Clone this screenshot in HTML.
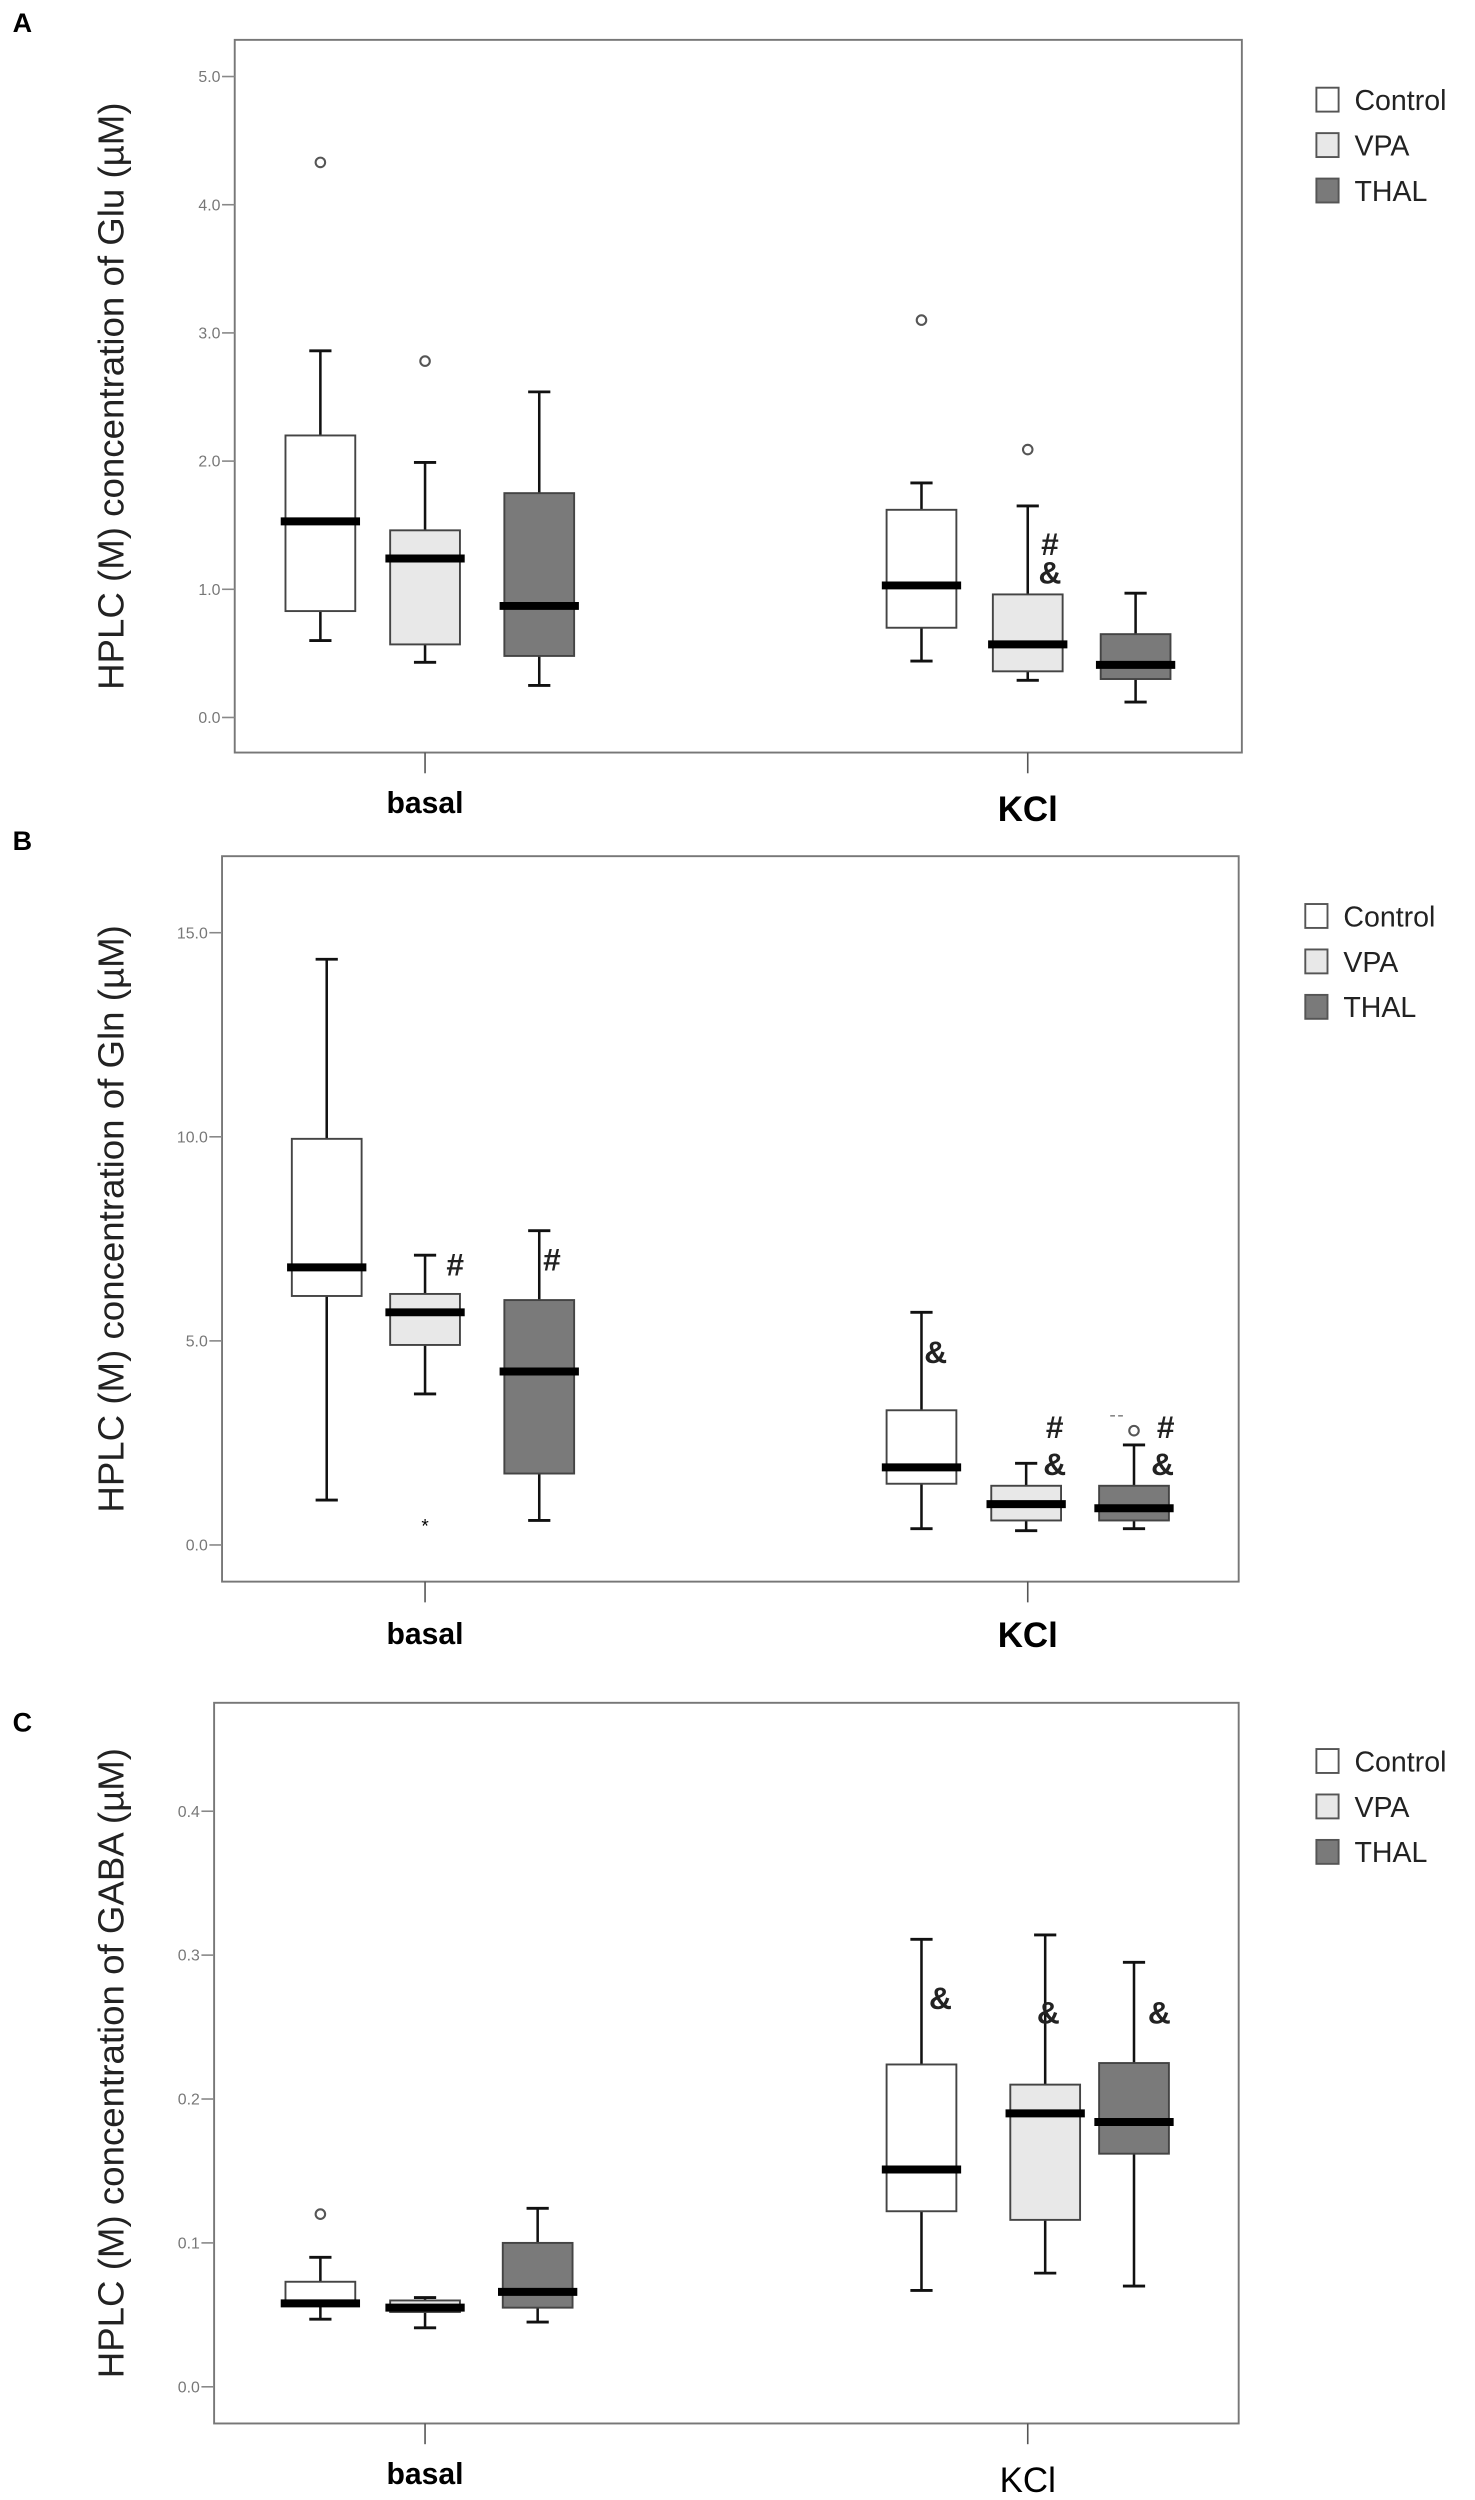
<!DOCTYPE html>
<html><head><meta charset="utf-8"><style>
html,body{margin:0;padding:0;background:#fff}
svg{display:block}
text{font-family:"Liberation Sans",sans-serif}
</style></head><body>
<svg id="fig" width="1475" height="2500" viewBox="0 0 930 1568" preserveAspectRatio="none" xmlns="http://www.w3.org/2000/svg"></svg>
<script>
const groups = ["Control","VPA","THAL"];
const categories = ["basal","KCl"];
// Panel A (Glu)
const aMin = [0.6,0.43,0.25,0.44,0.29,0.12];
const aQ1  = [0.83,0.57,0.48,0.7,0.36,0.3];
const aMed = [1.53,1.24,0.87,1.03,0.57,0.41];
const aQ3  = [2.2,1.46,1.75,1.62,0.96,0.65];
const aMax = [2.86,1.99,2.54,1.83,1.65,0.97];
const aOut = [[4.33],[2.78],[],[3.1],[2.09],[]];
const aTicks = [0,1,2,3,4,5];
const aTickLabels = ["0.0","1.0","2.0","3.0","4.0","5.0"];
// Panel B (Gln)
const bMin = [1.1,3.7,0.6,0.4,0.35,0.4];
const bQ1  = [6.1,4.9,1.75,1.5,0.6,0.6];
const bMed = [6.8,5.7,4.25,1.9,1.0,0.9];
const bQ3  = [9.95,6.15,6.0,3.3,1.45,1.45];
const bMax = [14.35,7.1,7.7,5.7,2.0,2.45];
const bOut = [[],[],[],[],[],[2.8]];
const bExt = [[],[0.5],[],[],[],[]];
const bTicks = [0,5,10,15];
const bTickLabels = ["0.0","5.0","10.0","15.0"];
// Panel C (GABA)
const cMin = [0.047,0.041,0.045,0.067,0.079,0.07];
const cQ1  = [0.057,0.052,0.055,0.122,0.116,0.162];
const cMed = [0.058,0.055,0.066,0.151,0.19,0.184];
const cQ3  = [0.073,0.06,0.1,0.224,0.21,0.225];
const cMax = [0.09,0.062,0.124,0.311,0.314,0.295];
const cOut = [[0.12],[],[],[],[],[]];
const cTicks = [0,0.1,0.2,0.3,0.4];
const cTickLabels = ["0.0","0.1","0.2","0.3","0.4"];

const NS="http://www.w3.org/2000/svg";
const svg=document.getElementById('fig');
function el(tag,attrs,parent,txt){const e=document.createElementNS(NS,tag);for(const k in attrs)e.setAttribute(k,attrs[k]);if(txt!==undefined)e.textContent=txt;(parent||svg).appendChild(e);return e;}
const fills=["#ffffff","#e8e8e8","#7a7a7a"];

function panel(cfg){
  const g=el('g',{});
  
  
  const y=v=>cfg.y0+(v-cfg.t0)/(cfg.t1-cfg.t0)*(cfg.y1-cfg.y0);
  const L=el('text',{x:8,y:cfg.letterY,'font-size':17,'font-weight':'bold'},g,cfg.letter);
  
  const fr=el('rect',{x:cfg.fx0,y:cfg.fy0,width:cfg.fx1-cfg.fx0,height:cfg.fy1-cfg.fy0,fill:'none',stroke:'#777','stroke-width':1.2},g);
  
  cfg.ticks.forEach((t,i)=>{
    const ln=el('line',{x1:cfg.fx0-8,x2:cfg.fx0,y1:y(t),y2:y(t),stroke:'#888'},g);
    
    const tx=el('text',{x:cfg.fx0-9,y:y(t)+3.5,'font-size':10,fill:'#777','text-anchor':'end'},g,cfg.labels[i]);
    
  });
  const yt=el('text',{transform:`translate(78,${(cfg.fy0+cfg.fy1)/2}) rotate(-90)`,'font-size':23,'text-anchor':'middle',fill:'#222'},g,cfg.title);
  
  categories.forEach((c,i)=>{
    const cx=[268,648][i];
    const tk=el('line',{x1:cx,x2:cx,y1:cfg.fy1,y2:cfg.fy1+13,stroke:'#555'},g);
    
    const bold=(i===1&&cfg.kclNormal)?'normal':'bold';
    const t=el('text',{x:cx,y:cfg.catY[i],'font-size':i?22:19,'font-weight':bold,'text-anchor':'middle'},g,c);
    
  });
  for(let i=0;i<6;i++){
    const cx=cfg.cx[i],hw=22,gi=i%3;
    const b=el('g',{},g);
    
    
    el('line',{x1:cx,x2:cx,y1:y(cfg.min[i]),y2:y(cfg.max[i]),stroke:'#111','stroke-width':1.6},b);
    el('line',{x1:cx-7,x2:cx+7,y1:y(cfg.min[i]),y2:y(cfg.min[i]),stroke:'#111','stroke-width':1.8},b);
    el('line',{x1:cx-7,x2:cx+7,y1:y(cfg.max[i]),y2:y(cfg.max[i]),stroke:'#111','stroke-width':1.8},b);
    el('rect',{x:cx-hw,y:y(cfg.q3[i]),width:2*hw,height:y(cfg.q1[i])-y(cfg.q3[i]),fill:fills[gi],stroke:'#444','stroke-width':1.2},b);
    el('line',{x1:cx-hw-3,x2:cx+hw+3,y1:y(cfg.med[i]),y2:y(cfg.med[i]),stroke:'#000','stroke-width':5},b);
    cfg.out[i].forEach(v=>el('circle',{cx:cx,cy:y(v),r:3,fill:'none',stroke:'#555','stroke-width':1.3},b));
    (cfg.ext?cfg.ext[i]:[]).forEach(v=>el('text',{x:cx,y:y(v)+5,'font-size':12,'text-anchor':'middle'},b,'*'));
  }
  cfg.ann.forEach(a=>{const t=el('text',{x:a[0],y:a[1],'font-size':20,'font-weight':'bold','text-anchor':'middle',fill:'#222'},g,a[2]);
    });
  groups.forEach((n,k)=>{
    const ly=cfg.legY+k*28.5;
    const le=el('g',{},g);
    
    el('rect',{x:cfg.legX,y:ly-8,width:14,height:15,fill:fills[k],stroke:'#555','stroke-width':1.2},le);
    el('text',{x:cfg.legX+24,y:ly+6,'font-size':18,fill:'#222'},le,n);
  });
  return g;
}
panel({letter:'A',letterY:20,fx0:148,fx1:783,fy0:25,fy1:472,y0:450,y1:48,t0:0,t1:5,ticks:aTicks,labels:aTickLabels,
  title:'HPLC (M) concentration of Glu (\u00b5M)',catY:[510,515],cx:[202,268,340,581,648,716],
  min:aMin,q1:aQ1,med:aMed,q3:aQ3,max:aMax,out:aOut,ann:[[662,348,'#'],[662,366,'&']],legX:830,legY:63});
const pb=panel({letter:'B',letterY:533,fx0:140,fx1:781,fy0:537,fy1:992,y0:969,y1:585,t0:0,t1:15,ticks:bTicks,labels:bTickLabels,
  title:'HPLC (M) concentration of Gln (\u00b5M)',catY:[1031,1033],cx:[206,268,340,581,647,715],
  min:bMin,q1:bQ1,med:bMed,q3:bQ3,max:bMax,out:bOut,ext:bExt,
  ann:[[287,800,'#'],[348,797,'#'],[590,855,'&'],[665,902,'#'],[665,925,'&'],[735,902,'#'],[733,925,'&']],legX:823,legY:575});
const dash=el('line',{x1:700,x2:710,y1:888,y2:888,stroke:'#888','stroke-width':1,'stroke-dasharray':'3,2'},pb);


panel({letter:'C',letterY:1086,fx0:135,fx1:781,fy0:1068,fy1:1520,y0:1497,y1:1136,t0:0,t1:0.4,ticks:cTicks,labels:cTickLabels,
  title:'HPLC (M) concentration of GABA (\u00b5M)',catY:[1558,1563],cx:[202,268,339,581,659,715],kclNormal:true,
  min:cMin,q1:cQ1,med:cMed,q3:cQ3,max:cMax,out:cOut,
  ann:[[593,1260,'&'],[661,1269,'&'],[731,1269,'&']],legX:830,legY:1105});
</script>
</body></html>
